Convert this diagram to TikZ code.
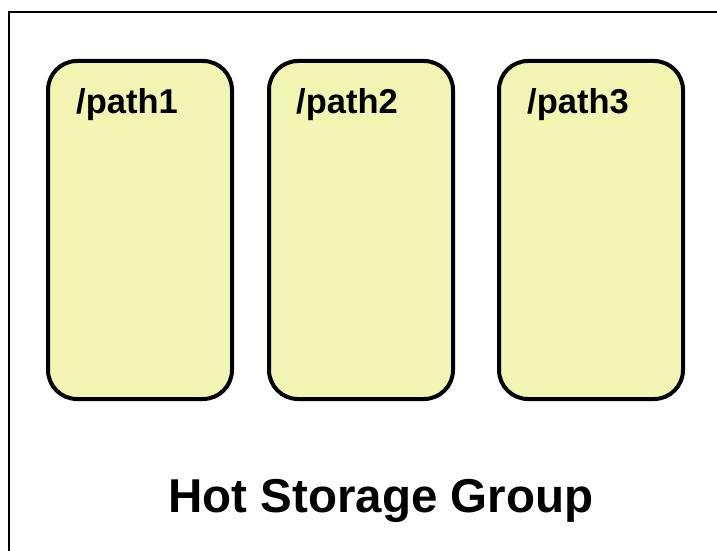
\documentclass[tikz,border=0pt]{standalone}
\usepackage{fontspec}
\setmainfont{Liberation Sans}
\definecolor{boxfill}{RGB}{242,245,178}
\begin{document}
\begin{tikzpicture}[x=1pt,y=-1pt,
  pathbox/.style={draw=black,line width=4pt,fill=boxfill,rounded corners=29pt},
  pathlabel/.style={anchor=base west,inner sep=0pt,font=\fontsize{34.5}{40}\selectfont\bfseries}]
\useasboundingbox (0,0) rectangle (717,551);
\begin{scope}
\clip (0,0) rectangle (717,551);
\draw[line width=2pt] (9,12) rectangle (740,580);
\end{scope}
\draw[pathbox] (48,61) rectangle (232,399);
\draw[pathbox] (269,61) rectangle (453,399);
\draw[pathbox] (499,61) rectangle (683,399);
\node[pathlabel] (p1) at (76,113) {/path1};
\node[pathlabel] (p2) at (296,113) {/path2};
\node[pathlabel] (p3) at (527,113) {/path3};
\node[anchor=base,inner sep=0pt,font=\fontsize{47.5}{56}\selectfont\bfseries] (title) at (381,512.5) {Hot Storage Group};
\end{tikzpicture}
\end{document}
